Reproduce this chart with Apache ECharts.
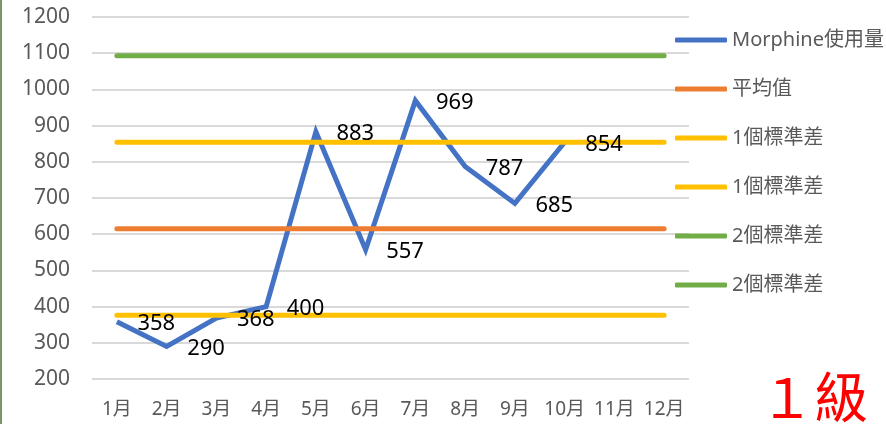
<!DOCTYPE html>
<html>
<head>
<meta charset="utf-8">
<script src="https://cdn.jsdelivr.net/npm/echarts@6/dist/echarts.min.js"></script>
<style>
  html, body { margin: 0; padding: 0; background: #fff; }
  #main { width: 886px; height: 424px; }
</style>
</head>
<body>
<div id="main"></div>
<script>
"use strict";
// 月份
var months = ['1月', '2月', '3月', '4月', '5月', '6月', '7月', '8月', '9月', '10月', '11月', '12月'];
// Morphine使用量 (1~10月)
var usage = [358, 290, 368, 400, 883, 557, 969, 787, 685, 854];
// 平均值 / 標準差線
var meanLine  = [615, 615, 615, 615, 615, 615, 615, 615, 615, 615, 615, 615];
var sd1Upper  = [854, 854, 854, 854, 854, 854, 854, 854, 854, 854, 854, 854];
var sd1Lower  = [376, 376, 376, 376, 376, 376, 376, 376, 376, 376, 376, 376];
var sd2Upper  = [1093, 1093, 1093, 1093, 1093, 1093, 1093, 1093, 1093, 1093, 1093, 1093];
var sd2Lower  = [137, 137, 137, 137, 137, 137, 137, 137, 137, 137, 137, 137];
var legendNames = ['Morphine使用量', '平均值', '1個標準差', '1個標準差 ', '2個標準差', '2個標準差 '];
var yTicks = { min: 200, max: 1200, interval: 100 };

var font = '"Noto Sans", "Noto Sans CJK TC", sans-serif';

function flat(name, data, color) {
	return {
		name: name, type: 'line', data: data, symbol: 'none', silent: true,
		color: color, clip: true, z: 2,
		lineStyle: { color: color, width: 5, cap: 'round' }
	};
}

var option = {
	animation: false,
	backgroundColor: '#fff',
	grid: { left: 92, right: 197, top: 17, bottom: 45 },
	legend: {
		data: legendNames,
		orient: 'vertical', left: 670, top: 23,
		icon: 'roundRect', itemWidth: 52, itemHeight: 5, itemGap: 25,
		textStyle: { fontSize: 20, color: '#595959', fontFamily: font, lineHeight: 24 },
		formatter: function (n) { return n.trim(); },
		selectedMode: false
	},
	xAxis: {
		type: 'category', data: months, boundaryGap: true,
		axisLine: { show: false }, axisTick: { show: false },
		axisLabel: { fontSize: 19, color: '#595959', margin: 21, interval: 0, fontFamily: font }
	},
	yAxis: {
		type: 'value', min: yTicks.min, max: yTicks.max, interval: yTicks.interval,
		axisLine: { show: false }, axisTick: { show: false },
		axisLabel: { fontSize: 21, color: '#595959', margin: 22, fontFamily: font,
			formatter: function (v) { return String(v); } },
		splitLine: { lineStyle: { color: '#d9d9d9', width: 2 } }
	},
	series: [
		{
			name: 'Morphine使用量', type: 'line', data: usage, color: '#4472C4',
			symbol: 'none', z: 1,
			lineStyle: { color: '#4472C4', width: 5, join: 'miter' }
		},
		flat('平均值', meanLine, '#ED7D31'),
		flat('1個標準差', sd1Upper, '#FFC000'),
		flat('1個標準差 ', sd1Lower, '#FFC000'),
		flat('2個標準差', sd2Upper, '#70AD47'),
		flat('2個標準差 ', sd2Lower, '#70AD47'),
		{
			// 數據標籤 (置頂)
			name: 'labels', type: 'line', data: usage, z: 5, silent: true,
			symbol: 'circle', symbolSize: 1, itemStyle: { color: 'rgba(0,0,0,0)' },
			lineStyle: { opacity: 0 },
			label: { show: true, position: 'right', distance: 20, offset: [0, 2],
				fontSize: 22, color: '#000', fontFamily: font }
		}
	],
	graphic: [
		{ type: 'rect', left: 0, top: 0, shape: { width: 2, height: 424 }, style: { fill: '#7a9669' } },
		{ type: 'text', left: 760, top: 370, style: { text: '１級', fontSize: 54, fill: '#ff0000', fontFamily: '"Noto Sans CJK TC", sans-serif' } }
	]
};

var chart = echarts.init(document.getElementById('main'));
chart.setOption(option);
</script>
</body>
</html>
